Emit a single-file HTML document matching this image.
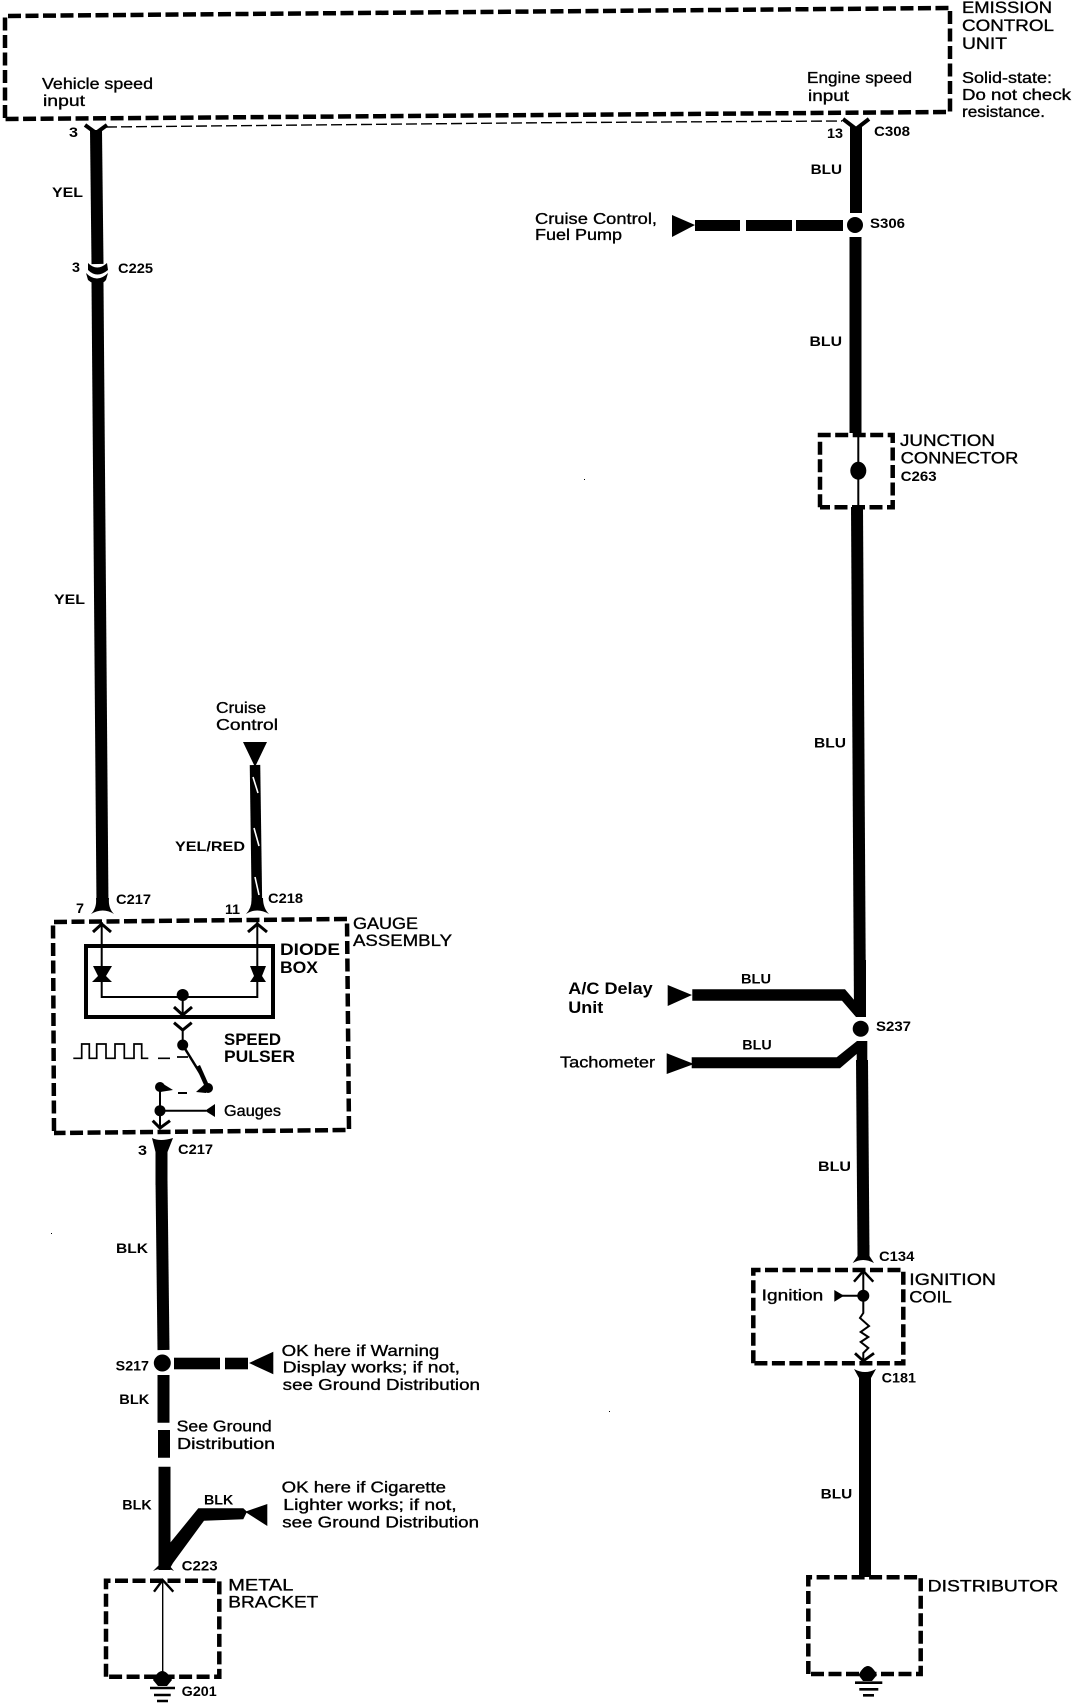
<!DOCTYPE html>
<html><head><meta charset="utf-8"><style>
html,body{margin:0;padding:0;background:#fff}
svg{display:block}
text{font-family:"Liberation Sans",sans-serif;fill:#000;stroke:#000;stroke-width:.35}
.l{font-size:16px}.c{font-size:17px}.s{font-size:14px;font-weight:bold;stroke:none}.b{font-size:17px;font-weight:bold;stroke:none}
.w{fill:none;stroke:#000;stroke-width:12}
.t{fill:none;stroke:#000;stroke-width:2}
.k{fill:none;stroke:#000;stroke-width:4}
.d{fill:none;stroke:#000;stroke-width:4.5;stroke-dasharray:13 4.5}
</style></head><body>
<svg xmlns="http://www.w3.org/2000/svg" width="1088" height="1704" viewBox="0 0 1088 1704">
<rect width="1088" height="1704" fill="#fff"/>
<!-- ECU box -->
<path class="d" d="M5 118L5 16L950 8L950 112L5 119"/>
<path fill="none" stroke="#000" stroke-width="1.4" stroke-dasharray="11 4" d="M106 127L544 122.7L842 121"/>
<text class="l" x="42" y="89" textLength="111" lengthAdjust="spacingAndGlyphs">Vehicle speed</text>
<text class="l" x="43" y="106" textLength="42" lengthAdjust="spacingAndGlyphs">input</text>
<text class="l" x="807" y="83" textLength="105" lengthAdjust="spacingAndGlyphs">Engine speed</text>
<text class="l" x="808" y="101" textLength="41" lengthAdjust="spacingAndGlyphs">input</text>
<text class="c" x="962" y="13" textLength="90" lengthAdjust="spacingAndGlyphs">EMISSION</text>
<text class="c" x="962" y="31" textLength="92" lengthAdjust="spacingAndGlyphs">CONTROL</text>
<text class="c" x="962" y="49" textLength="45" lengthAdjust="spacingAndGlyphs">UNIT</text>
<text class="l" x="962" y="83" textLength="90" lengthAdjust="spacingAndGlyphs">Solid-state:</text>
<text class="l" x="962" y="100" textLength="109" lengthAdjust="spacingAndGlyphs">Do not check</text>
<text class="l" x="962" y="117" textLength="83" lengthAdjust="spacingAndGlyphs">resistance.</text>

<!-- Left YEL wire -->
<path class="w" d="M96 130L97.5 264"/>
<path class="k" d="M85 125L96 133L107 125"/>
<path fill="#000" d="M88 263Q97 272 107 263L108 270Q97 279 88 270Z"/>
<path fill="#000" d="M86 273Q97 284 108 273L106 280L103 283V300H92V283L88 280Z"/>
<path class="w" d="M97.5 283L102.5 908"/>
<path fill="#000" d="M91 914Q97 908 96 898H109Q108 908 114 914Q103 907 91 914Z"/>
<text class="s" x="69" y="137" textLength="9" lengthAdjust="spacingAndGlyphs">3</text>
<text class="s" x="52" y="197" textLength="31" lengthAdjust="spacingAndGlyphs">YEL</text>
<text class="s" x="72" y="272" textLength="8" lengthAdjust="spacingAndGlyphs">3</text>
<text class="s" x="118" y="273" textLength="35" lengthAdjust="spacingAndGlyphs">C225</text>
<text class="s" x="54" y="604" textLength="31" lengthAdjust="spacingAndGlyphs">YEL</text>

<!-- Cruise control wire -->
<text class="l" x="216" y="713" textLength="50" lengthAdjust="spacingAndGlyphs">Cruise</text>
<text class="l" x="216" y="730" textLength="62" lengthAdjust="spacingAndGlyphs">Control</text>
<path fill="#000" d="M243 742H267L255 767Z"/>
<path class="w" d="M255 765L257 908" style="stroke-width:10.5"/>
<path stroke="#fff" stroke-width="1.6" d="M253 777L258 793M254 828L259 846M255 877L259 895"/>
<path fill="#000" d="M246 914Q252 908 251.5 898H263Q263 908 269 914Q257 907 246 914Z"/>
<text class="s" x="175" y="851" textLength="70" lengthAdjust="spacingAndGlyphs">YEL/RED</text>
<text class="s" x="76" y="913" textLength="8" lengthAdjust="spacingAndGlyphs">7</text>
<text class="s" x="116" y="904" textLength="35" lengthAdjust="spacingAndGlyphs">C217</text>
<text class="s" x="225" y="914" textLength="15" lengthAdjust="spacingAndGlyphs">11</text>
<text class="s" x="268" y="903" textLength="35" lengthAdjust="spacingAndGlyphs">C218</text>

<!-- Gauge assembly -->
<path class="d" d="M54 1131L53 922L347 919L349 1130L54 1133"/>
<text class="c" x="353" y="929" textLength="65" lengthAdjust="spacingAndGlyphs">GAUGE</text>
<text class="c" x="353" y="946" textLength="99" lengthAdjust="spacingAndGlyphs">ASSEMBLY</text>
<rect x="86" y="946" width="187" height="71" class="k"/>
<text class="b" x="280" y="955" textLength="60" lengthAdjust="spacingAndGlyphs">DIODE</text>
<text class="b" x="280" y="973" textLength="38" lengthAdjust="spacingAndGlyphs">BOX</text>
<text class="b" x="224" y="1045" textLength="57" lengthAdjust="spacingAndGlyphs">SPEED</text>
<text class="b" x="224" y="1062" textLength="71" lengthAdjust="spacingAndGlyphs">PULSER</text>
<text class="l" x="224" y="1116" textLength="57" lengthAdjust="spacingAndGlyphs">Gauges</text>
<path class="t" d="M101.7 922V997H257.3V922M182.7 997V1015"/>
<path class="k" style="stroke-width:3" d="M93 932L101.7 924L111 932M248 932L257.3 924L267 932"/>
<path fill="#000" d="M93 966H112L106 976L112 982H92L98 976Z"/>
<path fill="#000" d="M250 966H266L262 976L266 982H250L254 976Z"/>
<circle cx="182.7" cy="995" r="6"/>
<path class="k" style="stroke-width:3" d="M174 1007L182.7 1015L192 1007M174 1022.7L182.7 1030L191.7 1022.7"/>
<path class="t" d="M182.7 1030V1045"/>
<circle cx="182.7" cy="1045" r="5.5"/>
<path fill="none" stroke="#000" stroke-width="1.7" d="M73.3 1058.3H81.7V1044H89.3V1058.3H96.7V1044H106V1058.3H115V1044H124.3V1058.3H134V1044H141.7V1058.3H148.3M158 1058.3H170M177 1057H188"/>
<path fill="none" stroke="#000" stroke-width="2.5" d="M182.7 1045L208 1086"/>
<path fill="#000" d="M196 1067L200 1065L208 1083L204 1085Z"/>
<circle cx="208" cy="1088" r="5"/>
<path fill="#000" d="M196 1092L206 1083V1093Z"/>
<rect x="178" y="1092" width="9" height="2"/>
<path fill="#000" d="M160 1082L173 1090L160 1092Z"/>
<circle cx="160" cy="1087" r="5"/>
<path class="t" d="M160 1087V1128M160 1110.7H206"/>
<circle cx="160" cy="1110.7" r="5.5"/>
<path fill="#000" d="M205 1110.7L215 1104V1117Z"/>
<path class="k" style="stroke-width:3" d="M152.7 1120.7L160 1128L170 1120.7"/>

<!-- BLK wire -->
<path fill="#000" d="M152 1138Q160 1142 173 1138L167.5 1152V1185H155.5V1152Z"/>
<path class="w" d="M161.5 1180L163.5 1350"/>
<text class="s" x="138" y="1155" textLength="9" lengthAdjust="spacingAndGlyphs">3</text>
<text class="s" x="178" y="1154" textLength="35" lengthAdjust="spacingAndGlyphs">C217</text>
<text class="s" x="116" y="1253" textLength="32" lengthAdjust="spacingAndGlyphs">BLK</text>
<circle cx="162.3" cy="1363" r="8.5"/>
<path class="w" d="M163.5 1375V1422.7M164 1430V1457.7M164.5 1466.7V1570"/>
<rect x="174" y="1357.7" width="46" height="11.6"/><rect x="225" y="1357.7" width="23" height="11.6"/>
<path fill="#000" d="M249 1363L273.3 1351.7V1374.3Z"/>
<text class="s" x="115.7" y="1370.7" textLength="33.3" lengthAdjust="spacingAndGlyphs">S217</text>
<text class="s" x="119.3" y="1404" textLength="30" lengthAdjust="spacingAndGlyphs">BLK</text>
<text class="l" x="176.7" y="1431.7" textLength="95" lengthAdjust="spacingAndGlyphs">See Ground</text>
<text class="l" x="177" y="1449" textLength="98" lengthAdjust="spacingAndGlyphs">Distribution</text>
<text class="l" x="281.7" y="1356" textLength="157.6" lengthAdjust="spacingAndGlyphs">OK here if Warning</text>
<text class="l" x="282.7" y="1372.7" textLength="177.3" lengthAdjust="spacingAndGlyphs">Display works; if not,</text>
<text class="l" x="282.7" y="1390" textLength="197.3" lengthAdjust="spacingAndGlyphs">see Ground Distribution</text>
<text class="s" x="122.3" y="1509.3" textLength="29.4" lengthAdjust="spacingAndGlyphs">BLK</text>
<text class="s" x="204" y="1504.3" textLength="29.3" lengthAdjust="spacingAndGlyphs">BLK</text>
<path fill="#000" d="M170 1543L198.3 1508.3H243.3L247 1511.7L243.3 1519.3L204 1520.7L173 1563L169 1570H158.7V1543Z"/>
<path fill="#000" d="M245 1511.7L267.3 1504V1526Z"/>
<path fill="#000" d="M153 1571L159 1565H169L174 1571Q164 1566 153 1571Z"/>
<text class="l" x="281.7" y="1492.7" textLength="164.3" lengthAdjust="spacingAndGlyphs">OK here if Cigarette</text>
<text class="l" x="283.3" y="1510" textLength="173.4" lengthAdjust="spacingAndGlyphs">Lighter works; if not,</text>
<text class="l" x="282.3" y="1527.7" textLength="196.7" lengthAdjust="spacingAndGlyphs">see Ground Distribution</text>
<text class="s" x="181.7" y="1570.7" textLength="36" lengthAdjust="spacingAndGlyphs">C223</text>
<!-- Metal bracket -->
<path class="d" d="M106 1676.7V1580.7H219.3V1676.7H106"/>
<text class="c" x="228.3" y="1590.7" textLength="65" lengthAdjust="spacingAndGlyphs">METAL</text>
<text class="c" x="228.3" y="1607.3" textLength="90" lengthAdjust="spacingAndGlyphs">BRACKET</text>
<path fill="none" stroke="#000" stroke-width="1.4" d="M162.7 1579V1674"/>
<path fill="none" stroke="#000" stroke-width="2.4" d="M154 1591.7L162.7 1580L173.3 1591.7"/>
<path fill="#000" d="M153 1680Q162 1662 172 1680L167 1686H158Z"/>
<path class="k" style="stroke-width:2.6" d="M150 1688H175M154 1695H170.7M157 1701H168"/>
<text class="s" x="181.7" y="1696" textLength="35" lengthAdjust="spacingAndGlyphs">G201</text>

<!-- Right BLU wire -->
<path class="k" d="M843 119L856 129L869 119"/>
<path class="w" d="M856 127V213M855.5 237V433"/>
<text class="s" x="827" y="138" textLength="16" lengthAdjust="spacingAndGlyphs">13</text>
<text class="s" x="874" y="136" textLength="36" lengthAdjust="spacingAndGlyphs">C308</text>
<text class="s" x="810.6" y="174" textLength="31.4" lengthAdjust="spacingAndGlyphs">BLU</text>
<circle cx="855" cy="225" r="8"/>
<text class="s" x="870" y="228" textLength="35" lengthAdjust="spacingAndGlyphs">S306</text>
<rect x="695" y="220" width="45" height="11"/><rect x="746" y="220" width="46" height="11"/><rect x="796" y="220" width="47" height="11"/>
<path fill="#000" d="M672 215L695 225L672 237Z"/>
<text class="l" x="535" y="224" textLength="122" lengthAdjust="spacingAndGlyphs">Cruise Control,</text>
<text class="l" x="535" y="240" textLength="87" lengthAdjust="spacingAndGlyphs">Fuel Pump</text>
<text class="s" x="809.5" y="346" textLength="32.5" lengthAdjust="spacingAndGlyphs">BLU</text>

<!-- Junction -->
<path class="d" d="M820 507.3V435H892.7V507.3H820"/>
<path class="t" d="M858.3 435V507"/>
<ellipse cx="858.3" cy="470.7" rx="8" ry="9"/>
<text class="c" x="900" y="446" textLength="95" lengthAdjust="spacingAndGlyphs">JUNCTION</text>
<text class="c" x="900.7" y="463.3" textLength="117.6" lengthAdjust="spacingAndGlyphs">CONNECTOR</text>
<text class="s" x="900.7" y="481" textLength="36" lengthAdjust="spacingAndGlyphs">C263</text>
<path class="w" d="M857 507L860 1015"/>
<text class="s" x="814" y="747.5" textLength="32" lengthAdjust="spacingAndGlyphs">BLU</text>

<!-- S237 -->
<path fill="#000" d="M692.3 989.3H845L855 1001V960H866V1017H856L842 1000.7H692.3Z"/>
<path fill="#000" d="M691.7 1057.3H836.7L857 1041H867.3V1070H856.7V1054L840 1068.3H691.7Z"/>
<path fill="#000" d="M667.7 985L692 995L667.7 1006Z"/>
<path fill="#000" d="M666.7 1053.3L694 1064L666.7 1074Z"/>
<circle cx="860.7" cy="1028.7" r="8"/>
<text class="s" x="876" y="1031" textLength="35" lengthAdjust="spacingAndGlyphs">S237</text>
<text class="b" x="568.3" y="994" textLength="84.4" lengthAdjust="spacingAndGlyphs">A/C Delay</text>
<text class="b" x="568.3" y="1013" textLength="35" lengthAdjust="spacingAndGlyphs">Unit</text>
<text class="l" x="560" y="1067.3" textLength="95" lengthAdjust="spacingAndGlyphs">Tachometer</text>
<text class="s" x="741" y="983.3" textLength="30" lengthAdjust="spacingAndGlyphs">BLU</text>
<text class="s" x="742.3" y="1049.3" textLength="29.4" lengthAdjust="spacingAndGlyphs">BLU</text>
<path class="w" d="M862 1060L863.5 1255"/>
<text class="s" x="818" y="1171" textLength="33" lengthAdjust="spacingAndGlyphs">BLU</text>
<path fill="#000" d="M852.7 1263L857.5 1256V1245H869.5V1256L874 1263Q863 1257 852.7 1263Z"/>
<text class="s" x="879" y="1261" textLength="35.3" lengthAdjust="spacingAndGlyphs">C134</text>

<!-- Ignition coil -->
<path class="d" d="M753.3 1363.3V1270H903.3V1363.3H753.3"/>
<text class="c" x="909.3" y="1285" textLength="86.7" lengthAdjust="spacingAndGlyphs">IGNITION</text>
<text class="c" x="909.3" y="1302.3" textLength="42.4" lengthAdjust="spacingAndGlyphs">COIL</text>
<text class="l" x="761.7" y="1300.7" textLength="61.6" lengthAdjust="spacingAndGlyphs">Ignition</text>
<path fill="none" stroke="#000" stroke-width="2.5" d="M854 1281.7L863.3 1271L873.3 1281.7"/>
<path class="t" d="M863.3 1271V1313L860 1318L869 1326L860.7 1332L868.3 1337L860.7 1342L868.3 1348L863.3 1353V1362"/>
<circle cx="863.3" cy="1295.7" r="6"/>
<path class="t" d="M841 1295.7H863"/>
<path fill="#000" d="M834.3 1290L844 1295.7L834.3 1301.7Z"/>
<path fill="none" stroke="#000" stroke-width="2.8" d="M855 1353.3L863.3 1361L874 1353.3"/>
<path fill="#000" d="M854 1369Q865 1375 876 1369L871 1378V1385H859V1378Z"/>
<path class="w" d="M865 1380V1577"/>
<text class="s" x="881.7" y="1382.7" textLength="34.3" lengthAdjust="spacingAndGlyphs">C181</text>
<text class="s" x="820.7" y="1498.7" textLength="31.6" lengthAdjust="spacingAndGlyphs">BLU</text>

<!-- Distributor -->
<path class="d" d="M808.3 1674V1577.3H920.7V1674H808.3"/>
<text class="c" x="927.7" y="1591.7" textLength="130.6" lengthAdjust="spacingAndGlyphs">DISTRIBUTOR</text>
<path fill="#000" d="M858.5 1675Q868 1657 877 1675L872 1681H863Z"/>
<path class="k" style="stroke-width:2.6" d="M855 1682.7H882.3M859.3 1689.3H878.3M863 1695.3H874"/>

<!-- specks -->
<rect x="584" y="479" width="1" height="1"/><rect x="51" y="1233" width="1" height="1"/><rect x="609" y="1411" width="1" height="1"/>
</svg>
</body></html>
